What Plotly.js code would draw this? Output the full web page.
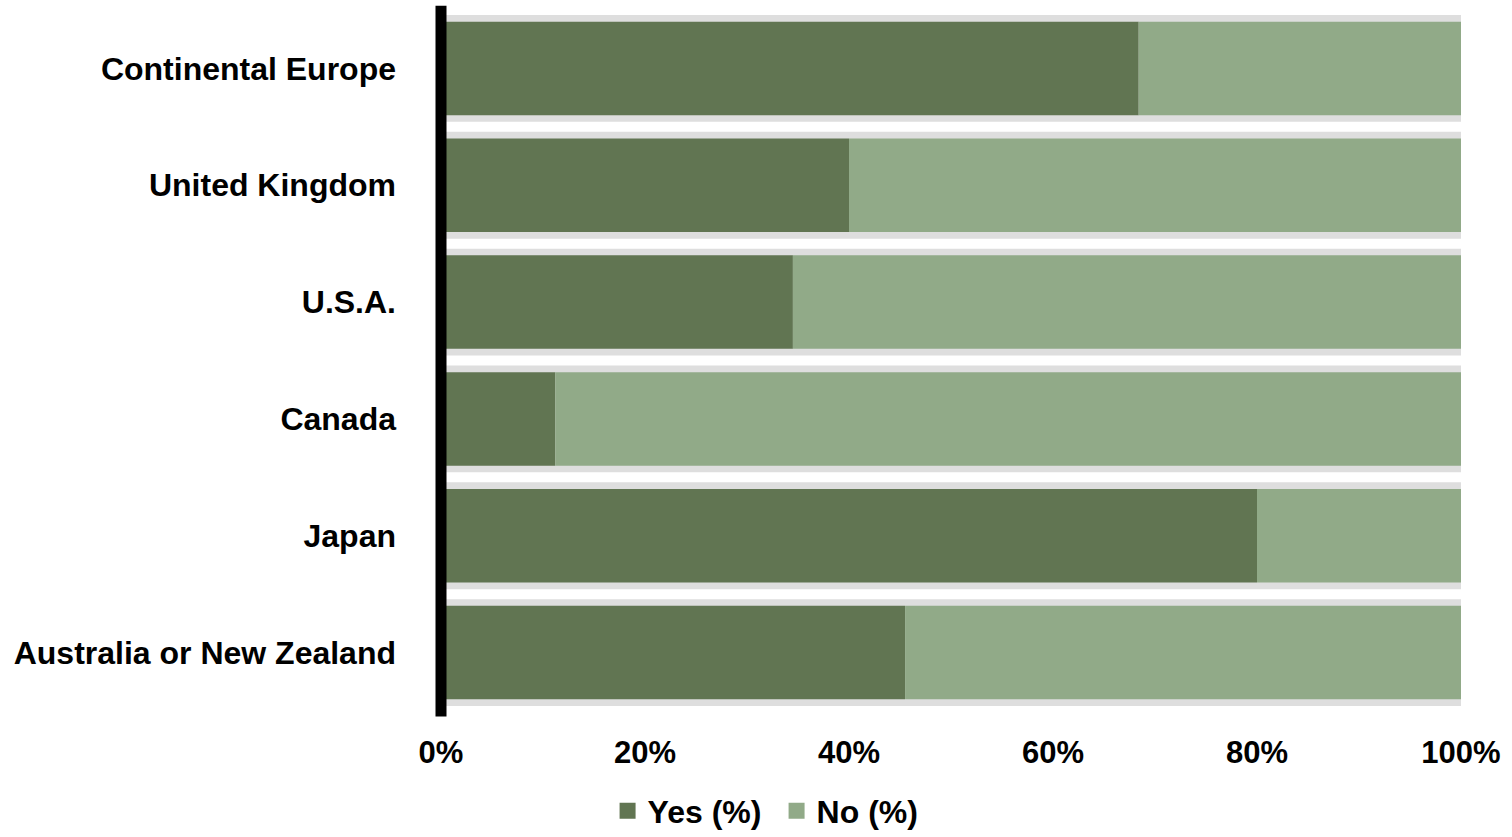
<!DOCTYPE html>
<html>
<head>
<meta charset="utf-8">
<script src="https://cdn.plot.ly/plotly-3.0.1.min.js"></script>
<style>
  html, body { margin: 0; padding: 0; background: #ffffff; }
  #chart { width: 1512px; height: 837px; }
</style>
</head>
<body>
<div id="chart"></div>
<script>
// Share of respondents answering Yes / No, by region (top to bottom)
const regions = ["Continental Europe", "United Kingdom", "U.S.A.", "Canada", "Japan", "Australia or New Zealand"];
const yesPct = [68.4, 40.0, 34.5, 11.2, 80.0, 45.5];
const noPct = yesPct.map(v => 100 - v);
const totalPct = regions.map(() => 100);
const xTickVals = [0, 20, 40, 60, 80, 100];
const xTickText = ["0%", "20%", "40%", "60%", "80%", "100%"];

const DARK = "#617552";
const LIGHT = "#91aa88";
const TRACK = "#dedede";
const FONT = "'Liberation Sans', Arial, sans-serif";

const traces = [
  // full-width grey track behind each bar
  { type: "bar", orientation: "h", y: regions, x: totalPct, width: 0.915,
    marker: { color: TRACK }, showlegend: false, hoverinfo: "skip" },
  { type: "bar", orientation: "h", y: regions, x: yesPct, width: 0.8,
    marker: { color: DARK }, showlegend: false, name: "Yes (%)" },
  { type: "bar", orientation: "h", y: regions, x: noPct, base: yesPct, width: 0.8,
    marker: { color: LIGHT }, showlegend: false, name: "No (%)" },
  // legend entries
  { type: "scatter", mode: "markers", x: [null], y: [null], name: "Yes (%)",
    marker: { symbol: "square", size: 16, color: DARK } },
  { type: "scatter", mode: "markers", x: [null], y: [null], name: "No (%)",
    marker: { symbol: "square", size: 16, color: LIGHT } }
];

const layout = {
  width: 1512, height: 837,
  margin: { l: 441, r: 51, t: 10, b: 126, autoexpand: false },
  paper_bgcolor: "#ffffff", plot_bgcolor: "#ffffff",
  barmode: "overlay",
  hovermode: false,
  font: { family: FONT, size: 30, color: "#000000", weight: "bold" },
  xaxis: {
    range: [0, 100], tickvals: xTickVals, ticktext: xTickText,
    showgrid: false, zeroline: false, showline: false, ticks: "",
    automargin: false,
    ticklabelstandoff: 20,
    tickfont: { family: FONT, size: 31, color: "#000000", weight: "bold" }
  },
  yaxis: {
    type: "category", categoryorder: "array", categoryarray: regions,
    range: [5.5, -0.5],
    showgrid: false, zeroline: false, showline: false, ticks: "",
    automargin: false,
    ticklabelstandoff: 44,
    tickfont: { family: FONT, size: 32, color: "#000000", weight: "bold" }
  },
  shapes: [
    // thick vertical baseline at 0%
    { type: "line", xref: "paper", yref: "paper", x0: 0, x1: 0, y0: -0.008, y1: 1.006,
      line: { color: "#000000", width: 11 }, layer: "above" }
  ],
  legend: {
    orientation: "h", x: 0.329, xanchor: "center",
    yref: "container", y: 0.031, yanchor: "middle",
    font: { family: FONT, size: 32, color: "#000000", weight: "bold" },
    itemwidth: 30, traceorder: "normal",
    entrywidth: 124, entrywidthmode: "pixels"
  }
};

Plotly.newPlot("chart", traces, layout, { displayModeBar: false, staticPlot: true });
</script>
</body>
</html>
